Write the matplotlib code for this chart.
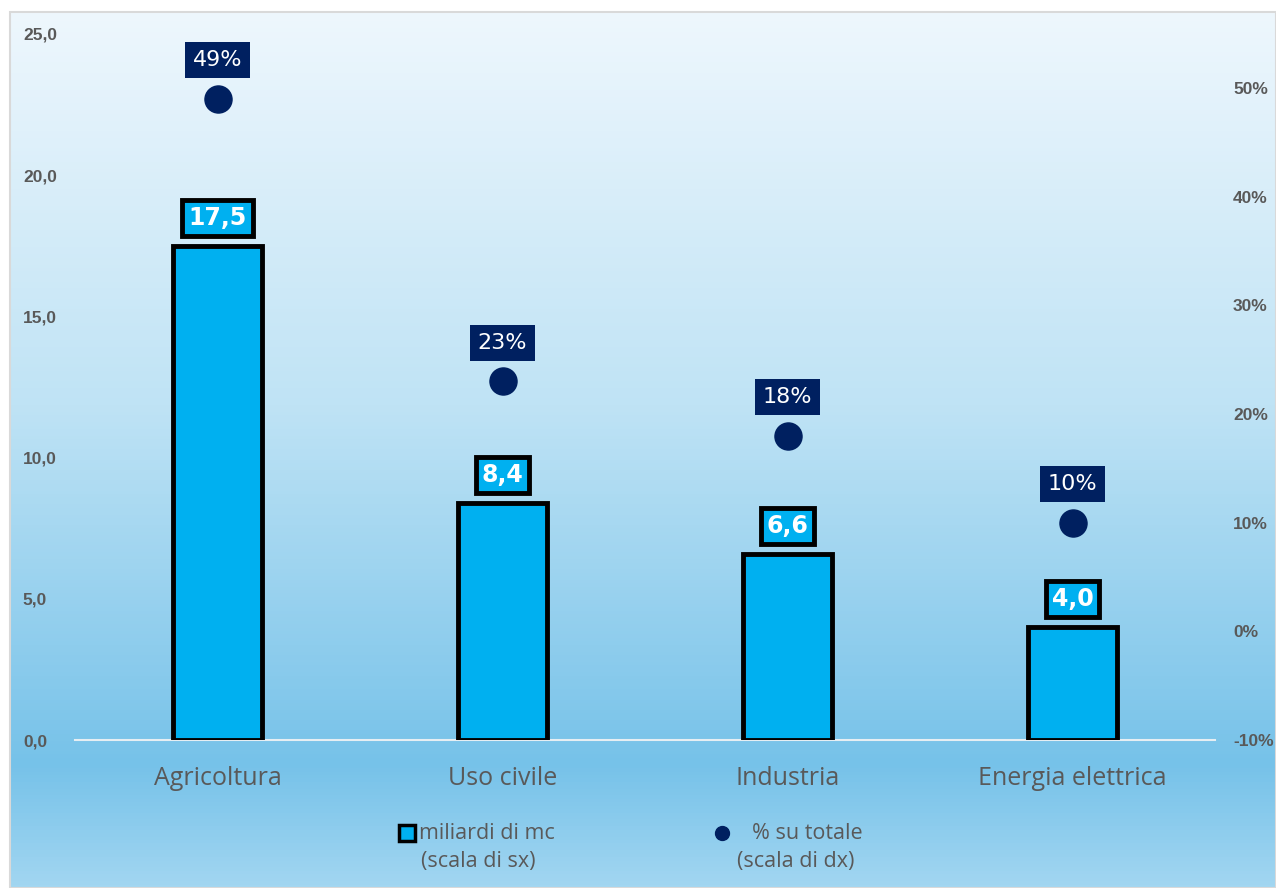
import numpy as np
import matplotlib
matplotlib.use("Agg")
import matplotlib.pyplot as plt
from matplotlib.colors import LinearSegmentedColormap
from matplotlib.patches import Rectangle
from matplotlib.lines import Line2D

# data
categorie = ["Agricoltura", "Uso civile", "Industria", "Energia elettrica"]
miliardi_mc = [17.5, 8.4, 6.6, 4.0]
quota = [0.49, 0.23, 0.18, 0.10]

W, H = 1276, 888
fig = plt.figure(figsize=(W / 100, H / 100), dpi=100, facecolor="white")

# background gradient (chart area)
bg = fig.add_axes([10 / W, 0, 1 - 10 / W, 1 - 12 / H], zorder=-5)
cmap = LinearSegmentedColormap.from_list(
    "bg", [(0, "#eef7fd"), (0.45, "#bfe3f5"), (0.86, "#76c2e9"), (1, "#a2d6f1")])
grad = np.linspace(0, 1, 256).reshape(-1, 1)
bg.imshow(grad, aspect="auto", cmap=cmap, extent=[0, 1, 0, 1], origin="upper")
bg.set_axis_off()
fig.patches.append(Rectangle((10 / W, 0), 1 - 10 / W, 1 - 12 / H, transform=fig.transFigure,
                             fill=False, edgecolor="#d9d9d9", linewidth=1.5, zorder=10))

grigio = "#595959"
ax = fig.add_axes([75 / W, 148 / H, 1140 / W, 706 / H])
ax.set_facecolor("none")
x = np.arange(len(categorie))
ax.bar(x, miliardi_mc, width=0.31, color="#00b0f0", edgecolor="black", linewidth=3.5, zorder=3)
ax.set_xlim(-0.5, 3.5)
ax.set_ylim(0, 25)
ax.set_yticks(np.arange(0, 26, 5))
ax.set_yticklabels([f"{v:.1f}".replace(".", ",") for v in np.arange(0, 26, 5)])
ax.set_xticks(x)
ax.set_xticklabels(categorie, fontsize=18, color=grigio, family="Open Sans")
ax.tick_params(axis="x", length=0, pad=19)
ax.tick_params(axis="y", length=0, pad=37.5, labelsize=12.5, labelcolor=grigio)
for t in ax.get_yticklabels():
    t.set_horizontalalignment("left")
    t.set_fontweight("bold")
    t.set_family("Liberation Sans")
for s in ["top", "left", "right"]:
    ax.spines[s].set_visible(False)
ax.spines["bottom"].set_color("#e6eef3")
ax.spines["bottom"].set_linewidth(1.5)

for xi, v in zip(x, miliardi_mc):
    ax.annotate(f"{v:.1f}".replace(".", ","), (xi, v), xytext=(0, 20), textcoords="offset points",
                ha="center", va="center", fontsize=17, fontweight="bold", color="white",
                family="DejaVu Sans", zorder=5,
                bbox=dict(boxstyle="square,pad=0.25", facecolor="#00b0f0", edgecolor="black", linewidth=3.5))

ax2 = ax.twinx()
ax2.set_ylim(-0.10, 0.5497)
ax2.set_yticks(np.arange(-0.1, 0.51, 0.1))
ax2.set_yticklabels([f"{round(v * 100)}%" for v in np.arange(-0.1, 0.51, 0.1)])
ax2.tick_params(axis="y", length=0, pad=13, labelsize=12.5, labelcolor=grigio)
for t in ax2.get_yticklabels():
    t.set_fontweight("bold")
    t.set_family("Liberation Sans")
for s in ax2.spines.values():
    s.set_visible(False)
ax2.scatter(x, quota, s=380, color="#002060", zorder=4)
for xi, q in zip(x, quota):
    ax2.annotate(f"{round(q * 100)}%", (xi, q), xytext=(0, 28), textcoords="offset points",
                 ha="center", va="center", fontsize=16, color="white", family="DejaVu Sans",
                 bbox=dict(boxstyle="square,pad=0.36", facecolor="#002060", edgecolor="none"))

# legend
fig.add_artist(Line2D([407 / W], [1 - 833 / H], marker="s", markersize=11, markerfacecolor="#00b0f0",
                      markeredgecolor="black", markeredgewidth=2.5, transform=fig.transFigure))
fig.text(419 / W, 1 - 833 / H, "miliardi di mc", fontsize=15.5, color=grigio, family="Open Sans",
         ha="left", va="center")
fig.text(421 / W, 1 - 861 / H, "(scala di sx)", fontsize=15.5, color=grigio, family="Open Sans",
         ha="left", va="center")
fig.add_artist(Line2D([722 / W], [1 - 833 / H], marker="o", markersize=10, color="#002060",
                      transform=fig.transFigure))
fig.text(752 / W, 1 - 833 / H, "% su totale", fontsize=15.5, color=grigio, family="Open Sans",
         ha="left", va="center")
fig.text(737 / W, 1 - 861 / H, "(scala di dx)", fontsize=15.5, color=grigio, family="Open Sans",
         ha="left", va="center")

fig.savefig("out.png", dpi=100, facecolor="white")
